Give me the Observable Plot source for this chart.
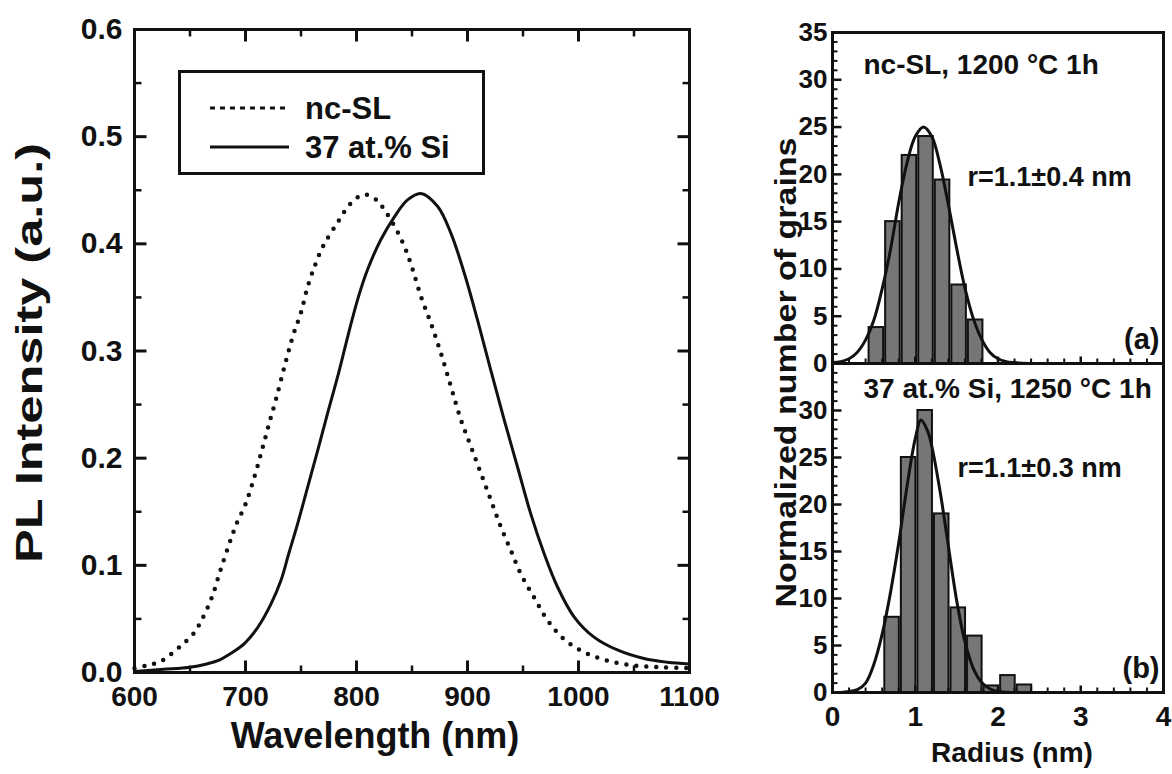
<!DOCTYPE html>
<html>
<head>
<meta charset="utf-8">
<script src="https://cdn.jsdelivr.net/npm/d3@7"></script>
<script src="https://cdn.jsdelivr.net/npm/@observablehq/plot@0.6"></script>
<style>
  body { margin: 0; background: #fff; }
  #root { position: relative; width: 1172px; height: 774px; overflow: hidden; background: #fff;
          font-family: "Liberation Sans", Arial, Helvetica, sans-serif; font-weight: bold; color: #111; }
  .abs { position: absolute; }
  #legend { left: 178px; top: 70px; width: 301px; height: 99px; border: 3px solid #111; background: #fff; }
  #legend .lab { position: absolute; left: 124px; font-size: 31px; line-height: 31px; transform: translateY(-50%); white-space: nowrap; }
</style>
</head>
<body>
<div id="root">
  <div id="pl" class="abs" style="left:0;top:0"></div>
  <div id="hb" class="abs" style="left:760px;top:363px"></div>
  <div id="ha" class="abs" style="left:760px;top:0"></div>
  <div id="legend" class="abs">
    <svg class="abs" style="left:26px;top:0" width="85" height="99">
      <line x1="3" x2="82" y1="35" y2="35" stroke="#111" stroke-width="3" stroke-dasharray="5,5"></line>
      <line x1="3" x2="82" y1="74" y2="74" stroke="#111" stroke-width="3"></line>
    </svg>
    <div class="lab" style="top:35px">nc-SL</div>
    <div class="lab" style="top:74px">37 at.% Si</div>
  </div>
</div>
<script>
// ---------------- data ----------------
// PL spectra (wavelength in nm, intensity in a.u.)
const wlNcSL = [600,611,623,634,644,653,661,670,677,685,692,700,709,716,722,728,736,743,750,756,763,770,783,795,807,818,825,835,843,850,858,867,876,885,894,903,912,921,930,939,948,960,972,987,1005,1026,1050,1074,1100];
const plNcSL = [0.004,0.0065,0.010,0.018,0.027,0.036,0.050,0.071,0.094,0.119,0.139,0.157,0.186,0.212,0.235,0.257,0.289,0.315,0.336,0.360,0.381,0.398,0.420,0.438,0.446,0.441,0.432,0.415,0.398,0.378,0.351,0.326,0.298,0.267,0.236,0.211,0.186,0.161,0.136,0.114,0.092,0.070,0.049,0.031,0.019,0.011,0.0065,0.005,0.004];
const wlSi37 = [600,626,650,665,675,687,699,711,723,732,739,747,756,765,774,783,792,801,810,822,834,846,858,873,885,897,909,921,933,945,957,969,981,996,1014,1035,1059,1080,1100];
const plSi37 = [0.001,0.003,0.005,0.008,0.011,0.018,0.027,0.042,0.064,0.086,0.111,0.139,0.173,0.207,0.242,0.276,0.313,0.348,0.376,0.404,0.425,0.441,0.447,0.435,0.410,0.373,0.329,0.282,0.236,0.192,0.148,0.111,0.080,0.052,0.033,0.021,0.013,0.0096,0.008];
const plXTicks = [600,700,800,900,1000,1100];
const plXMinor = [650,750,850,950,1050];
const plYTicks = [0.0,0.1,0.2,0.3,0.4,0.5,0.6];
const plYMinor = [0.05,0.15,0.25,0.35,0.45,0.55];

// Histograms: radius bins (nm) and normalized counts
const binWidth = 0.2;
const binStartA = [0.43,0.63,0.83,1.03,1.23,1.43,1.63];
const countA    = [3.8,15,22,24,19.4,8.3,4.6];
const binStartB = [0.62,0.82,1.02,1.22,1.42,1.62,1.82,2.02,2.22];
const countB    = [8,25,30,19,9,6,0.7,1.8,0.8];
// Gaussian fit curves
const fitRA = [0.0,0.1,0.2,0.3,0.4,0.5,0.6,0.7,0.8,0.9,1.0,1.1,1.2,1.3,1.4,1.5,1.6,1.7,1.8,1.9,2.0,2.1,2.2,2.4];
const fitNA = [0.1,0.2,0.5,1.2,2.5,4.6,7.9,12.0,17.0,21.2,24.0,25.0,24.0,21.0,16.8,12.2,8.0,4.8,2.6,1.2,0.5,0.2,0.1,0];
const fitRB = [0.0,0.1,0.2,0.3,0.4,0.5,0.6,0.7,0.8,0.9,1.0,1.07,1.15,1.2,1.3,1.4,1.5,1.6,1.7,1.8,1.9,2.0,2.2,2.4];
const fitNB = [0,0,0.1,0.3,1.0,3.0,6.2,10.6,15.9,21.9,27.0,29.0,27.8,26.2,21.4,15.6,9.8,5.4,2.6,1.1,0.4,0.1,0,0];
const hXLabels = [0,1,2,3,4];
const hXMinor = [0.2,0.4,0.6,0.8,1.2,1.4,1.6,1.8,2.2,2.4,2.6,2.8,3.2,3.4,3.6,3.8];
const hYLabelsA = [0,5,10,15,20,25,30,35];
const hYLabelsB = [0,5,10,15,20,25,30];

// ---------------- build ----------------
const FONT = "'Liberation Sans', Arial, Helvetica, sans-serif";
const INK = "#111";
const baseStyle = {fontFamily: FONT, fontWeight: "bold", color: INK, background: "transparent", overflow: "visible"};

// Inward tick marks: short segments (Plot.link) whose pixel length is converted into data units
function ticksX(ticks, side, Lpx, w, g) {
  const L = Lpx * (g.y1 - g.y0) / g.fH;
  const a = side === "bottom" ? g.y0 : g.y1, b = side === "bottom" ? g.y0 + L : g.y1 - L;
  const segs = ticks.map(v => ({x: v, ya: a, yb: b}));
  return Plot.link(segs, {x1: "x", x2: "x", y1: "ya", y2: "yb", stroke: INK, strokeWidth: w});
}
function ticksY(ticks, side, Lpx, w, g) {
  const L = Lpx * (g.x1 - g.x0) / g.fW;
  const a = side === "left" ? g.x0 : g.x1, b = side === "left" ? g.x0 + L : g.x1 - L;
  const segs = ticks.map(v => ({y: v, xa: a, xb: b}));
  return Plot.link(segs, {y1: "y", y2: "y", x1: "xa", x2: "xb", stroke: INK, strokeWidth: w});
}
function stretchText(svg, str, len) {
  svg.querySelectorAll("text").forEach(t => {
    if (t.textContent === str) { t.setAttribute("textLength", len); t.setAttribute("lengthAdjust", "spacingAndGlyphs"); }
  });
}

const ncSL = wlNcSL.map((w, i) => ({w, v: plNcSL[i]}));
const si37 = wlSi37.map((w, i) => ({w, v: plSi37[i]}));

const PW = 740, PH = 774, PML = 134, PMR = 51, PMT = 29, PMB = 102;
const gp = {x0: 600, x1: 1100, y0: 0, y1: 0.6, fW: PW - PML - PMR, fH: PH - PMT - PMB};
const pl = Plot.plot({
  width: PW, height: PH,
  marginLeft: PML, marginRight: PMR, marginTop: PMT, marginBottom: PMB,
  style: baseStyle,
  x: {domain: [gp.x0, gp.x1], label: null, axis: null},
  y: {domain: [gp.y0, gp.y1], label: null, axis: null},
  marks: [
    Plot.line(ncSL, {x: "w", y: "v", curve: "catmull-rom", stroke: INK, strokeWidth: 4.5, strokeDasharray: "0,10", strokeLinecap: "round"}),
    Plot.line(si37, {x: "w", y: "v", curve: "catmull-rom", stroke: INK, strokeWidth: 3}),
    ticksX(plXTicks, "bottom", 12, 3, gp), ticksX(plXMinor, "bottom", 7, 2.5, gp),
    ticksX(plXTicks, "top", 12, 3, gp), ticksX(plXMinor, "top", 7, 2.5, gp),
    ticksY(plYTicks, "left", 12, 3, gp), ticksY(plYMinor, "left", 7, 2.5, gp),
    ticksY(plYTicks, "right", 12, 3, gp), ticksY(plYMinor, "right", 7, 2.5, gp),
    Plot.frame({stroke: INK, strokeWidth: 3}),
    Plot.axisX(plXTicks, {anchor: "bottom", tickSize: 0, tickPadding: 14, fontSize: 28, label: null, tickFormat: d3.format("d")}),
    Plot.axisY(plYTicks, {anchor: "left", tickSize: 0, tickPadding: 12, fontSize: 30, label: null, tickFormat: d3.format(".1f")}),
    Plot.text(["Wavelength (nm)"], {text: d => d, frameAnchor: "bottom", dx: -37, dy: 75, fontSize: 36, fontWeight: "bold", fill: INK}),
    Plot.text(["PL Intensity (a.u.)"], {text: d => d, frameAnchor: "left", textAnchor: "middle", rotate: -90, dx: -104, dy: 2, fontSize: 36, fontWeight: "bold", fill: INK})
  ]
});
stretchText(pl, "PL Intensity (a.u.)", 420);
document.getElementById("pl").append(pl);

function hist(starts, counts, fitR, fitN, yLabels, opts) {
  const W = 412, ML = 72, MR = 9;
  const g = {x0: 0, x1: 4, y0: 0, y1: 35, fW: W - ML - MR, fH: opts.height - opts.marginTop - opts.marginBottom};
  const bars = starts.map((b, i) => ({x1: b, x2: b + binWidth, n: counts[i]}));
  const fit = fitR.map((r, i) => ({r, n: fitN[i]}));
  const yMinor = d3.range(1, 35).filter(v => v % 5 !== 0);
  const yMajor = [5, 10, 15, 20, 25, 30];
  const marks = [
    Plot.rect(bars, {x1: "x1", x2: "x2", y1: 0, y2: "n", fill: "#767676", stroke: INK, strokeWidth: 2, insetLeft: 1, insetRight: 1}),
    Plot.line(fit, {x: "r", y: "n", curve: "catmull-rom", stroke: INK, strokeWidth: 3}),
    ticksY(yMinor, "left", 5, 2, g), ticksY(yMajor, "left", 9, 2.5, g),
    ticksX(hXMinor, "bottom", 5, 2, g), ticksX([1, 2, 3], "bottom", 7, 2.5, g),
    Plot.frame({stroke: INK, strokeWidth: 3}),
    Plot.axisY(yLabels, {anchor: "left", tickSize: 0, tickPadding: 5, fontSize: 26, label: null, tickFormat: d3.format("d")}),
    Plot.text([opts.title], {text: d => d, frameAnchor: "top-left", lineAnchor: "middle", dx: 31, dy: opts.titleDy, fontSize: 28, fontWeight: "bold", fill: INK}),
    Plot.text([opts.fitLabel], {text: d => d, frameAnchor: "top-left", lineAnchor: "middle", dx: opts.fitDx, dy: opts.fitDy, fontSize: 27, fontWeight: "bold", fill: INK}),
    Plot.text([opts.tag], {text: d => d, frameAnchor: "bottom-right", lineAnchor: "middle", dx: -4, dy: -24, fontSize: 29, fontWeight: "bold", fill: INK})
  ];
  if (opts.xAxis) {
    marks.push(Plot.axisX(hXLabels, {anchor: "bottom", tickSize: 0, tickPadding: 14, fontSize: 28, label: null, tickFormat: d3.format("d")}));
    marks.push(Plot.text(["Radius (nm)"], {text: d => d, frameAnchor: "bottom", lineAnchor: "middle", dx: 14, dy: 61, fontSize: 28, fontWeight: "bold", fill: INK}));
  }
  if (opts.yTitle) {
    marks.push(Plot.text([opts.yTitle], {text: d => d, frameAnchor: "top-left", textAnchor: "middle", lineAnchor: "middle", rotate: -90, dx: -46, dy: 340, fontSize: 29, fontWeight: "bold", fill: INK}));
  }
  const svg = Plot.plot({
    width: W, height: opts.height,
    marginLeft: ML, marginRight: MR, marginTop: opts.marginTop, marginBottom: opts.marginBottom,
    style: baseStyle,
    x: {domain: [g.x0, g.x1], label: null, axis: null},
    y: {domain: [g.y0, g.y1], label: null, axis: null},
    marks
  });
  if (opts.yTitle) stretchText(svg, opts.yTitle, 470);
  return svg;
}

document.getElementById("ha").append(hist(binStartA, countA, fitRA, fitNA, hYLabelsA, {
  height: 364, marginTop: 32, marginBottom: 1, title: "nc-SL, 1200 °C 1h", titleDy: 33,
  fitLabel: "r=1.1±0.4 nm", fitDx: 135, fitDy: 145, tag: "(a)", xAxis: false,
  yTitle: "Normalized number of grains"
}));
document.getElementById("hb").append(hist(binStartB, countB, fitRB, fitNB, hYLabelsB, {
  height: 411, marginTop: 0, marginBottom: 82, title: "37 at.% Si, 1250 °C 1h", titleDy: 26,
  fitLabel: "r=1.1±0.3 nm", fitDx: 125, fitDy: 105, tag: "(b)", xAxis: true
}));
</script>
</body>
</html>
